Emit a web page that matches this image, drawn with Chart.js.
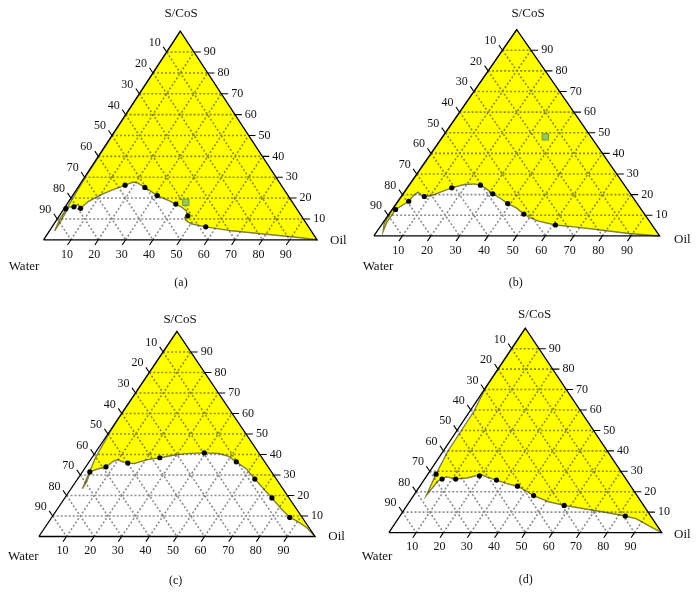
<!DOCTYPE html>
<html><head><meta charset="utf-8">
<script src="https://cdn.jsdelivr.net/npm/chart.js@4.4.0/dist/chart.umd.min.js"></script>
<style>
html,body{margin:0;padding:0;background:#fff;}
#wrap{position:relative;width:698px;height:595px;overflow:hidden;}
#wrap canvas{position:absolute;}
</style></head><body>
<div id="wrap"></div>
<script>
// ---------------- data (percent) ----------------
const tickValues = [10, 20, 30, 40, 50, 60, 70, 80, 90];
const vertexLabels = { water: 'Water', oil: 'Oil', surf: 'S/CoS' };
const panelLabels = ['(a)', '(b)', '(c)', '(d)'];

// Border of the yellow (single phase) region, traced from the Oil corner; water = 100 - oil - S/CoS
const aBoundaryOil  = [100, 91.7, 79.1, 66.6, 56.2, 50.1, 47.2, 46.2, 47.0, 45.3, 42.6, 39.8, 35.5, 31.0, 26.7, 24.5, 20.9, 18.9, 16.7, 13.1, 9.7, 7.1, 6.0, 4.2, 3.2, 1.3, 1.8, 1.9, 1.0, 0.9, 0.3, 0];
const aBoundarySurf = [0, 1.2, 2.8, 4.3, 6.2, 7.7, 9.5, 10.8, 11.5, 13.8, 15.7, 17.1, 19.2, 21.2, 23.8, 25.1, 27.2, 27.7, 26.2, 23.8, 21.2, 18.2, 15.1, 16.9, 15.8, 15.7, 9.2, 4.3, 10, 16, 30, 100];
const aPointOil  = [0.7, 3.2, 6.0, 16.7, 24.5, 31.0, 39.8, 47.0, 56.2];
const aPointSurf = [14.9, 15.8, 15.1, 26.2, 25.1, 21.2, 17.1, 11.5, 6.2];
const aMarker = { oil: 43, surf: 18 };

const bBoundaryOil  = [100, 88.7, 76.4, 67.9, 60.9, 54.0, 50.5, 47.2, 42.9, 39.0, 34.9, 31.4, 28.2, 25.0, 22.4, 19.2, 15.6, 13.0, 10.5, 8.1, 6.5, 4.9, 4.2, 3.8, 1.2, 1.2, 2.1, 0.6, 0.2, 0];
const bBoundarySurf = [0, 1.2, 3.1, 4.4, 5.3, 7.2, 8.7, 10.6, 13.7, 15.7, 18.4, 20.4, 22.7, 24.6, 25.2, 24.9, 23.3, 21.5, 19.6, 19.1, 19.9, 21.2, 19.9, 16.8, 12.8, 6.7, 2.3, 6, 10, 100];
const bPointOil  = [1.2, 3.8, 8.1, 15.6, 25.0, 31.4, 39.0, 47.2, 60.9];
const bPointSurf = [12.8, 16.8, 19.1, 23.3, 24.6, 20.4, 15.7, 10.6, 5.3];
const bMarker = { oil: 36, surf: 48 };

const cBoundaryOil  = [100, 94.9, 89.8, 86.2, 80.7, 75.0, 70.3, 64.2, 58.9, 53.3, 49.2, 45.0, 39.5, 33.2, 28.9, 24.6, 20.6, 16.8, 14.3, 11.5, 9.9, 8.6, 7.3, 4.6, 2.7, 3.9, 4.1, 1.3, 0.4, 0, 0];
const cBoundarySurf = [0, 4.3, 7.5, 9.3, 13.8, 18.8, 22.8, 28.0, 32.8, 36.4, 39.1, 40.5, 40.8, 40.4, 39.6, 38.4, 37.5, 35.6, 35.8, 36.7, 37.5, 36.7, 34.0, 32.8, 31.5, 27.2, 23.3, 38.3, 49.4, 57.3, 100];
const cPointOil  = [2.7, 7.3, 14.3, 24.6, 39.5, 53.3, 64.2, 75.0, 86.2];
const cPointSurf = [31.5, 34.0, 35.8, 38.4, 40.8, 36.4, 28.0, 18.8, 9.3];

const dBoundaryOil  = [100, 93.9, 87.4, 82.6, 72.5, 64.5, 57.6, 51.0, 44.0, 39.8, 35.8, 30.9, 26.6, 22.2, 19.5, 15.3, 11.4, 8.6, 7.3, 6.4, 5.4, 4.6, 3.0, 1.7, 1.5, 0, 0];
const dBoundarySurf = [0, 3.2, 6.7, 8.1, 10.3, 11.9, 13.3, 15.1, 18.1, 20.6, 22.7, 24.1, 25.7, 27.3, 28.4, 26.7, 26.2, 27.0, 27.3, 26.2, 25.4, 18.3, 28.6, 39.7, 59.5, 70.6, 100];
const dPointOil  = [3.0, 6.4, 11.4, 19.3, 26.6, 35.8, 44.0, 57.6, 82.6];
const dPointSurf = [28.6, 26.2, 26.2, 27.8, 25.7, 22.7, 18.1, 13.3, 8.1];

// ---------------- layout (pixels, per panel canvas) ----------------
const layout = [
  { left: 0,   top: 0,   w: 349, h: 297, bl: [39.3, 243.3], br: 321.7, apexY: 26.7, surfLbl: [181, 14],   oilLbl: [330, 241],   waterLbl: [24, 267],   capLbl: [181, 283] },
  { left: 349, top: 0,   w: 349, h: 297, bl: [20, 239.3],   br: 315,   apexY: 25,   surfLbl: [179, 14],   oilLbl: [325, 239.5], waterLbl: [29, 267],   capLbl: [166.7, 283.3] },
  { left: 0,   top: 297, w: 349, h: 298, bl: [35.7, 242],   br: 318.3, apexY: 31.3, surfLbl: [180, 23],   oilLbl: [328.3, 239.7], waterLbl: [23.3, 259.7], capLbl: [175.7, 284] },
  { left: 349, top: 297, w: 349, h: 298, bl: [36.7, 238],   br: 316,   apexY: 28,   surfLbl: [185.7, 18], oilLbl: [325, 237.3], waterLbl: [28, 259.7], capLbl: [176.7, 283] }
];
const panelData = [
  { bo: aBoundaryOil, bs: aBoundarySurf, po: aPointOil, ps: aPointSurf, marker: aMarker },
  { bo: bBoundaryOil, bs: bBoundarySurf, po: bPointOil, ps: bPointSurf, marker: bMarker },
  { bo: cBoundaryOil, bs: cBoundarySurf, po: cPointOil, ps: cPointSurf, marker: null },
  { bo: dBoundaryOil, bs: dBoundarySurf, po: dPointOil, ps: dPointSurf, marker: null }
];

const TICK = 2.5;
const SERIF = '"Liberation Serif", "Times New Roman", serif';
function tern(oil, surf) { return { x: oil + surf / 2, y: surf }; }

const labelPlugin = {
  id: 'ternLabels',
  afterDatasetsDraw(chart) {
    const cfg = chart.options.plugins.ternLabels;
    const ctx = chart.ctx, sx = chart.scales.x, sy = chart.scales.y;
    const P = p => [sx.getPixelForValue(p.x), sy.getPixelForValue(p.y)];
    ctx.save();
    ctx.fillStyle = '#111';
    ctx.font = '12px ' + SERIF;
    ctx.textBaseline = 'middle';
    tickValues.forEach(k => {
      let [px, py] = P(tern(k, -TICK));
      ctx.textAlign = 'center';
      ctx.fillText(String(k), px - 0.5, py + 9.5);
      [px, py] = P(tern(100 - k + TICK, k));
      ctx.textAlign = 'left';
      ctx.fillText(String(k), px + 3, py);
      [px, py] = P(tern(-TICK, 100 - k + TICK));
      ctx.textAlign = 'right';
      ctx.fillText(String(k), px - 2.5, py - 4);
    });
    ctx.font = '13px ' + SERIF;
    ctx.textAlign = 'center';
    ctx.fillText(vertexLabels.surf, cfg.surfLbl[0], cfg.surfLbl[1]);
    ctx.fillText(vertexLabels.water, cfg.waterLbl[0], cfg.waterLbl[1]);
    ctx.textAlign = 'left';
    ctx.fillText(vertexLabels.oil, cfg.oilLbl[0], cfg.oilLbl[1]);
    ctx.font = '12px ' + SERIF;
    ctx.textAlign = 'center';
    ctx.fillText(cfg.caption, cfg.capLbl[0], cfg.capLbl[1]);
    ctx.restore();
  }
};

const wrap = document.getElementById('wrap');
layout.forEach((L, i) => {
  const D = panelData[i];
  const cv = document.createElement('canvas');
  cv.width = L.w; cv.height = L.h;
  cv.style.left = L.left + 'px'; cv.style.top = L.top + 'px';
  cv.style.width = L.w + 'px'; cv.style.height = L.h + 'px';
  wrap.appendChild(cv);

  const kx = (L.br - L.bl[0]) / 100, ky = (L.bl[1] - L.apexY) / 100;
  const xmin = -L.bl[0] / kx, xmax = (L.w - L.bl[0]) / kx;
  const ymax = L.bl[1] / ky, ymin = (L.bl[1] - L.h) / ky;

  const region = D.bo.map((o, j) => tern(o, D.bs[j]));
  const grid = [];
  tickValues.forEach(k => {
    grid.push(tern(0, k), tern(100 - k, k), { x: null, y: null });
    grid.push(tern(k, 0), tern(k, 100 - k), { x: null, y: null });
    grid.push(tern(0, 100 - k), tern(100 - k, 0), { x: null, y: null });
  });
  const ticks = [];
  tickValues.forEach(k => {
    ticks.push(tern(k, 0), tern(k, -TICK), { x: null, y: null });
    ticks.push(tern(100 - k, k), tern(100 - k + TICK, k), { x: null, y: null });
    ticks.push(tern(0, 100 - k), tern(-TICK, 100 - k + TICK), { x: null, y: null });
  });
  const frame = [tern(0, 0), tern(100, 0), tern(0, 100), tern(0, 0)];
  const pts = D.po.map((o, j) => tern(o, D.ps[j]));

  const datasets = [
    { data: region, showLine: true, fill: 'shape', backgroundColor: '#ffff00', borderColor: '#7f7f3a', borderWidth: 1.4, pointRadius: 0, order: 6 },
    { data: grid, showLine: true, spanGaps: false, borderColor: 'rgba(45,45,45,0.55)', borderWidth: 1.6, borderDash: [2, 2], pointRadius: 0, order: 5 },
    { data: frame, showLine: true, borderColor: '#000', borderWidth: 1.3, pointRadius: 0, order: 4 },
    { data: ticks, showLine: true, spanGaps: false, borderColor: '#000', borderWidth: 1.1, pointRadius: 0, order: 4 },
    { data: pts, showLine: false, pointRadius: 2.6, pointBackgroundColor: '#000', pointBorderColor: '#000', pointBorderWidth: 0, order: 1 }
  ];
  if (D.marker) {
    datasets.push({ data: [tern(D.marker.oil, D.marker.surf)], showLine: false, pointStyle: 'rect', pointRadius: 4.5,
      pointBackgroundColor: '#95c85a', pointBorderColor: '#6f9a48', pointBorderWidth: 1, order: 2 });
  }

  new Chart(cv, {
    type: 'scatter',
    data: { datasets },
    options: {
      responsive: false, animation: false, devicePixelRatio: 1, events: [],
      layout: { padding: 0 },
      elements: { line: { tension: 0 } },
      scales: {
        x: { type: 'linear', display: false, min: xmin, max: xmax },
        y: { type: 'linear', display: false, min: ymin, max: ymax }
      },
      plugins: {
        legend: { display: false }, tooltip: { enabled: false },
        ternLabels: Object.assign({ caption: panelLabels[i] }, L)
      }
    },
    plugins: [labelPlugin]
  });
});
</script>
</body></html>
